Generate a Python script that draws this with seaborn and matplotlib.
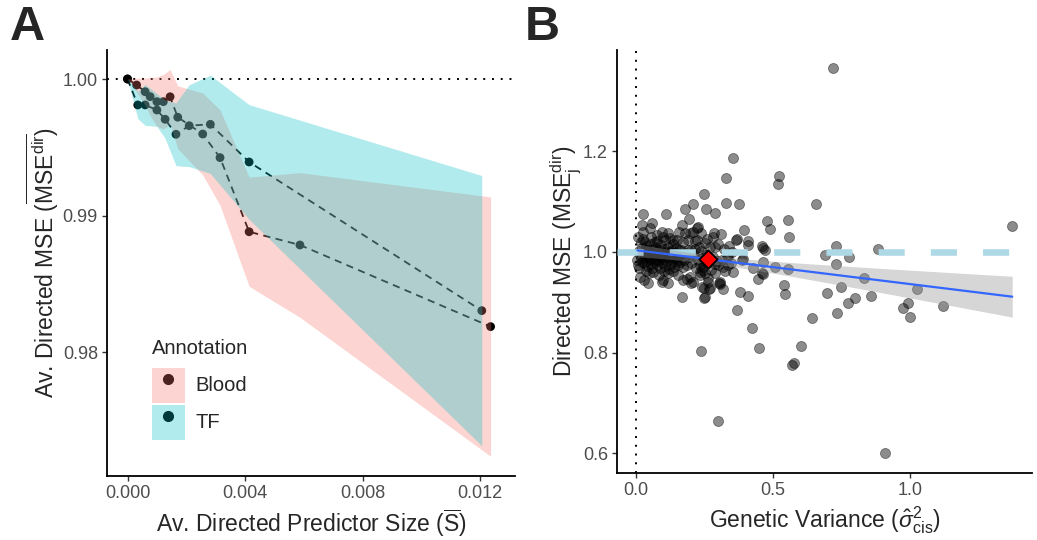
import numpy as np
import pandas as pd
import matplotlib
matplotlib.use("Agg")
import matplotlib.pyplot as plt
import seaborn as sns
from matplotlib.patches import Patch
from matplotlib.lines import Line2D
from matplotlib.legend_handler import HandlerTuple

# ---- panel A: average directed MSE vs predictor size ----
blood_x = [0.00000, 0.00031, 0.00060, 0.00077, 0.00100, 0.00122, 0.00145,
           0.00171, 0.00256, 0.00315, 0.00414, 0.00587, 0.01236]
blood_y = [1.00000, 0.99956, 0.99907, 0.99871, 0.99834, 0.99834, 0.99870,
           0.99720, 0.99597, 0.99424, 0.98881, 0.98784, 0.98186]
blood_sd = [0.0000, 0.0005, 0.0010, 0.0014, 0.0018, 0.0020, 0.0020,
            0.0023, 0.0030, 0.0035, 0.0040, 0.0053, 0.0095]

tf_x = [0.00000, 0.00035, 0.00060, 0.00100, 0.00128, 0.00165, 0.00210,
        0.00282, 0.00414, 0.01206]
tf_y = [1.00000, 0.99810, 0.99810, 0.99773, 0.99705, 0.99595, 0.99658,
        0.99668, 0.99392, 0.98303]
tf_sd = [0.0000, 0.0010, 0.0015, 0.0012, 0.0014, 0.0023, 0.0030,
         0.0036, 0.0042, 0.0099]

annotations = ["Blood", "TF"]
ann_colors = ["#F8766D", "#00BFC4"]

# ---- panel B: directed MSE per gene vs genetic variance ----
gv = [0.718, 1.373, 0.657, 0.523, 0.517, 0.556, 0.559, 0.729, 0.690, 0.778,
      0.729, 0.884, 0.556, 0.540, 0.543, 0.832, 0.749, 0.696, 0.857, 0.799,
      0.775, 1.024, 0.993, 0.976, 1.000, 1.122, 0.732, 0.643, 0.601, 0.578,
      0.570, 0.910, 0.300,
      0.355, 0.328, 0.249, 0.328, 0.376, 0.255, 0.288, 0.477, 0.488, 0.393,
      0.237, 0.286, 0.310, 0.364, 0.368, 0.410, 0.253, 0.410, 0.459, 0.288,
      0.471,
      0.252, 0.240, 0.288, 0.316, 0.337, 0.386, 0.428, 0.465, 0.459, 0.446,
      0.507, 0.252, 0.264, 0.248, 0.267, 0.248, 0.307, 0.319, 0.380, 0.408,
      0.368, 0.422, 0.449, 0.237,
      0.207, 0.108, 0.179, 0.027, 0.021, 0.057, 0.193, 0.167, 0.221, 0.157,
      0.197, 0.124, 0.094, 0.148, 0.191, 0.221, 0.157, 0.191, 0.255, 0.331,
      0.300, 0.337, 0.392, 0.465, 0.465, 0.234, 0.197, 0.173, 0.154, 0.100,
      0.118, 0.045, 0.167, 0.207, 0.240, 0.252, 0.270, 0.304, 0.306,
      0.051, 0.225, 0.209, 0.179, 0.118, 0.075, 0.008, 0.033, 0.069, 0.106,
      0.136, 0.173, 0.215, 0.201, 0.237, 0.179, 0.021, 0.094, 0.185, 0.201,
      0.234, 0.264,
      0.010, 0.015, 0.020, 0.022, 0.028, 0.030, 0.033, 0.036, 0.040, 0.042,
      0.045, 0.048, 0.050, 0.053, 0.055, 0.058, 0.060, 0.063, 0.066, 0.068,
      0.071, 0.074, 0.077, 0.080, 0.083, 0.086, 0.089, 0.092, 0.095, 0.098,
      0.101, 0.104, 0.107, 0.110, 0.113, 0.116, 0.119, 0.122, 0.125, 0.128,
      0.131, 0.134, 0.137, 0.140, 0.143, 0.146, 0.150, 0.154, 0.158, 0.162,
      0.166, 0.170,
      0.005, 0.008, 0.012, 0.018, 0.025, 0.038, 0.046, 0.062, 0.084, 0.102,
      0.118, 0.136, 0.055, 0.078, 0.097, 0.015, 0.030, 0.024, 0.035, 0.044,
      0.064, 0.072, 0.088, 0.094, 0.108, 0.124, 0.132, 0.148, 0.156, 0.175,
      0.180, 0.186, 0.192, 0.200, 0.210, 0.218, 0.226, 0.232, 0.240, 0.245,
      0.260, 0.272, 0.280, 0.290, 0.295, 0.315, 0.325, 0.345, 0.355, 0.300,
      0.320, 0.340, 0.350, 0.270, 0.260, 0.280, 0.230, 0.215]
mse = [1.366, 1.052, 1.095, 1.151, 1.135, 1.063, 1.029, 1.011, 0.994, 0.991,
       0.976, 1.005, 0.967, 0.934, 0.916, 0.949, 0.931, 0.919, 0.912, 0.908,
       0.898, 0.926, 0.898, 0.889, 0.870, 0.893, 0.879, 0.869, 0.813, 0.780,
       0.775, 0.600, 0.663,
       1.187, 1.148, 1.115, 1.097, 1.095, 1.085, 1.078, 1.062, 1.045, 1.043,
       1.038, 1.038, 1.035, 1.024, 1.026, 1.022, 1.017, 1.014, 1.011, 1.009,
       1.004,
       0.981, 0.964, 0.976, 0.970, 0.992, 0.984, 0.968, 0.981, 0.958, 0.946,
       0.971, 0.958, 0.948, 0.929, 0.926, 0.908, 0.936, 0.926, 0.920, 0.913,
       0.885, 0.848, 0.810, 0.803,
       1.095, 1.076, 1.085, 1.075, 1.054, 1.057, 1.066, 1.054, 1.047, 1.040,
       1.037, 1.027, 1.040, 1.024, 1.024, 1.024, 1.004, 1.004, 0.994, 0.992,
       0.974, 0.974, 0.987, 1.007, 0.956, 0.954, 0.951, 0.944, 0.954, 0.944,
       0.938, 0.938, 0.911, 0.941, 0.931, 0.911, 0.928, 0.938, 0.940,
       1.047, 1.050, 1.040, 1.037, 1.037, 1.034, 1.030, 1.020, 1.020, 1.024,
       1.024, 1.020, 1.022, 1.004, 1.001, 0.994, 0.981, 0.941, 0.946, 0.938,
       0.961, 0.941,
       1.002, 0.995, 0.988, 1.008, 0.978, 0.999, 0.990, 1.012, 0.983, 0.972,
       1.003, 0.994, 0.986, 1.015, 0.976, 0.998, 0.969, 1.006, 0.989, 0.981,
       1.010, 0.995, 0.974, 1.001, 0.985, 0.992, 0.968, 1.013, 0.979, 0.997,
       0.987, 1.005, 0.973, 0.994, 0.982, 1.009, 0.990, 0.966, 1.000, 0.977,
       0.993, 1.016, 0.984, 0.971, 0.998, 1.007, 0.988, 0.975, 0.996, 0.981,
       1.003, 0.970,
       0.985, 0.975, 0.968, 1.020, 1.025, 0.962, 0.958, 0.960, 0.955, 0.962,
       0.958, 0.962, 1.030, 1.022, 1.030, 0.950, 0.945, 1.040, 1.004, 0.991,
       0.997, 0.985, 1.003, 0.990, 0.999, 0.989, 1.004, 0.983, 0.992, 0.985,
       0.998, 0.974, 0.990, 0.979, 0.993, 0.968, 0.985, 0.975, 0.989, 0.970,
       0.980, 0.965, 0.990, 0.958, 0.982, 0.985, 0.962, 0.978, 0.960, 1.015,
       1.005, 1.012, 0.999, 1.010, 1.025, 1.030, 1.010, 1.005]

sns.set_style("ticks")
plt.rcParams['font.family'] = ['Liberation Sans', 'DejaVu Sans']
plt.rcParams['mathtext.fontset'] = 'custom'
plt.rcParams['mathtext.rm'] = 'Liberation Sans'
plt.rcParams['mathtext.it'] = 'Liberation Sans:italic'
plt.rcParams['mathtext.bf'] = 'Liberation Sans:bold'

W, H = 1037, 540
fig = plt.figure(figsize=(W / 100, H / 100), dpi=100)

def px_axes(l, t, r, b):
    return fig.add_axes([l / W, 1 - b / H, (r - l) / W, (b - t) / H])

def style(ax):
    for s in ["top", "right"]:
        ax.spines[s].set_visible(False)
    for s in ["left", "bottom"]:
        ax.spines[s].set_linewidth(1.3)
        ax.spines[s].set_color("black")
    ax.tick_params(length=3.5, width=1.0, color="#333333", labelsize=13,
                   labelcolor="#4D4D4D", pad=3)

# ---------- A ----------
axA = px_axes(107, 50, 515, 476)
axA.set_xlim(-0.000698, 0.013191)
axA.set_ylim(0.970916, 1.002125)
axA.axhline(1.0, color="black", lw=1.4, ls=(0, (1, 3.5)), zorder=1)

series = [(blood_x, blood_y, blood_sd), (tf_x, tf_y, tf_sd)]
for (sx, sy, sd), col in zip(series, ann_colors):
    sns.lineplot(x=sx, y=sy, ax=axA, color="black", lw=1.3,
                 linestyle=(0, (4, 3)), zorder=2, estimator=None)
    sns.scatterplot(x=sx, y=sy, ax=axA, color="black", s=40,
                    edgecolor="none", zorder=3)
for (sx, sy, sd), col in zip(series, ann_colors):
    lo = np.array(sy) - np.array(sd)
    hi = np.array(sy) + np.array(sd)
    axA.fill_between(sx, lo, hi, color=col, alpha=0.3, lw=0, zorder=4)

axA.set_xticks([0.0, 0.004, 0.008, 0.012])
axA.set_xticklabels(["0.000", "0.004", "0.008", "0.012"])
axA.set_yticks([0.98, 0.99, 1.00])
axA.set_yticklabels(["0.98", "0.99", "1.00"])
style(axA)
axA.set_xlabel(r"Av. Directed Predictor Size ($\overline{\mathrm{S}}$)",
               fontsize=16.5, labelpad=4)
axA.set_ylabel(r"Av. Directed MSE ($\overline{\mathrm{MSE}^{\mathrm{dir}}}$)",
               fontsize=16.5, labelpad=1)

handles = []
for col, dot in zip(ann_colors, ["#4A2321", "#00393B"]):
    handles.append((Patch(facecolor=col, alpha=0.3, edgecolor="none"),
                    Line2D([], [], marker="o", ls="none", color=dot,
                           markersize=7)))
leg = axA.legend(handles, annotations, title="Annotation", loc="upper left",
                 bbox_to_anchor=(0.11, 0.322), frameon=False, fontsize=14.5,
                 title_fontsize=14.5, handlelength=1.65, handleheight=2.3,
                 labelspacing=0.1, handletextpad=0.5, borderpad=0,
                 borderaxespad=0,
                 handler_map={tuple: HandlerTuple(ndivide=1, pad=0)})
leg._legend_box.align = "left"
leg._legend_box.sep = 7

# ---------- B ----------
axB = px_axes(617, 50, 1032, 473)
axB.set_xlim(-0.0693, 1.4453)
axB.set_ylim(0.5606, 1.4016)
df = pd.DataFrame({"gv": gv, "mse": mse})

# linear fit with 95% confidence band (as in a standard lm smooth)
xv, yv = df.gv.to_numpy(), df.mse.to_numpy()
n = len(xv)
slope, icpt = np.polyfit(xv, yv, 1)
resid = yv - (icpt + slope * xv)
s_res = np.sqrt(np.sum(resid ** 2) / (n - 2))
sxx = np.sum((xv - xv.mean()) ** 2)
grid = np.linspace(xv.min(), xv.max(), 80)
fit = icpt + slope * grid
se = s_res * np.sqrt(1 / n + (grid - xv.mean()) ** 2 / sxx)

axB.axvline(0.0, color="black", lw=1.4, ls=(0, (1, 3.5)), zorder=1)
sns.scatterplot(data=df, x="gv", y="mse", ax=axB, color="black", alpha=0.45,
                s=52, edgecolor="black", linewidth=0.6, zorder=2)
axB.axhline(1.0, color="#ADD8E6", lw=4.7, ls=(0, (4, 4)), zorder=3)
axB.fill_between(grid, fit - 1.97 * se, fit + 1.97 * se, color="#999999",
                 alpha=0.4, lw=0, zorder=4)
sns.lineplot(x=grid, y=fit, ax=axB, color="#3366FF", lw=1.6, zorder=5)
sns.scatterplot(x=[xv.mean()], y=[yv.mean()], ax=axB, marker="D",
                s=85, color="red", edgecolor="black", linewidth=1.3, zorder=6)

axB.set_xticks([0.0, 0.5, 1.0])
axB.set_xticklabels(["0.0", "0.5", "1.0"])
axB.set_yticks([0.6, 0.8, 1.0, 1.2])
axB.set_yticklabels(["0.6", "0.8", "1.0", "1.2"])
style(axB)
axB.set_xlabel(r"Genetic Variance ($\hat{\sigma}^2_{\mathrm{cis}}$)",
               fontsize=16.5, labelpad=4)
axB.set_ylabel(r"Directed MSE ($\mathrm{MSE}_{\mathrm{j}}^{\mathrm{dir}}$)",
               fontsize=16.5, labelpad=0)

fig.text(10 / W, 1 - 5 / H, "A", fontsize=35, fontweight="bold", va="top")
fig.text(525 / W, 1 - 5 / H, "B", fontsize=35, fontweight="bold", va="top")

fig.savefig("out.png", dpi=100)
